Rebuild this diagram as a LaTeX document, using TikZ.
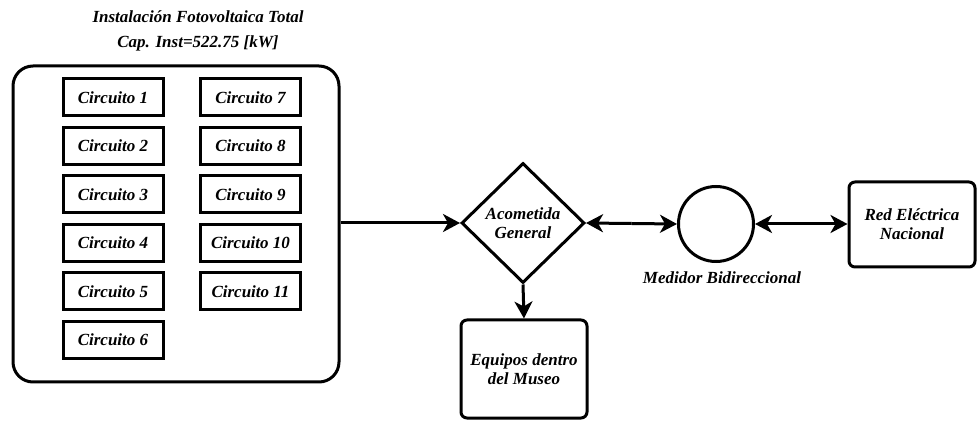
\documentclass[tikz,border=0pt]{standalone}
\usepackage{fontspec}
\setmainfont{Liberation Serif}
\usetikzlibrary{shapes.geometric,arrows.meta,calc}
\begin{document}
\begin{tikzpicture}[x=1pt,y=-1pt,
  >={Stealth[length=17pt,width=18pt,inset=5pt]},
  lbl/.style={font=\fontsize{17}{19}\selectfont\bfseries\itshape, align=center},
  circ/.style={draw, line width=3pt, minimum width=100pt, minimum height=37pt, inner sep=0pt, font=\fontsize{17}{19}\selectfont\bfseries\itshape},
  rbox/.style={draw, line width=3pt, rounded corners=6pt, inner sep=0pt, font=\fontsize{17}{19}\selectfont\bfseries\itshape, align=center},
  conn/.style={line width=3pt}
]
\useasboundingbox (0,0) rectangle (977,443);
% title
\node[lbl, font=\fontsize{17}{25}\selectfont\bfseries\itshape] (title) at (198,31) {Instalación Fotovoltaica Total\\Cap. Inst=522.75 [kW]};
% outer container
\node[draw, line width=3pt, rounded corners=20pt, minimum width=326pt, minimum height=316pt, inner sep=0pt] (pv) at (176,224) {};
% circuits
\foreach \i/\y in {1/97.5,2/146,3/194.5,4/243,5/291.5,6/340}{
  \node[circ] (c\i) at (113,\y) {Circuito \i};
}
\foreach \i/\y in {7/97.5,8/146,9/194.5,10/243,11/291.5}{
  \node[circ] (c\i) at (250.5,\y) {Circuito \i};
}
% diamond
\node[draw, diamond, line width=3pt, minimum width=123pt, minimum height=120pt, inner sep=0pt, lbl] (acom) at (523,223) {Acometida\\General};
% meter
\node[draw, circle, line width=3pt, minimum size=75pt, inner sep=0pt] (med) at (716,224) {};
\node[lbl] (medlbl) at (722,278) {Medidor Bidireccional};
% red
\node[rbox, minimum width=126pt, minimum height=85pt] (red) at (912,224.5) {Red Eléctrica\\Nacional};
% equipos
\node[rbox, minimum width=126pt, minimum height=98pt] (eq) at (524,369) {Equipos dentro\\del Museo};
% connectors
\coordinate (m1) at ($(acom.east)!0.5!(med.west)$);
\coordinate (m2) at ($(med.east)!0.5!(red.west |- med.east)$);
\draw[conn, ->] (pv.east |- acom.west) -- (acom.west);
\draw[conn, ->] (acom.south) -- (eq.north);
\draw[conn, ->] (m1) -- (acom.east);
\draw[conn, ->] (m1) -- (med.west);
\draw[conn, ->] (m2) -- (med.east);
\draw[conn, ->] (m2) -- (red.west |- med.east);
\end{tikzpicture}
\end{document}
